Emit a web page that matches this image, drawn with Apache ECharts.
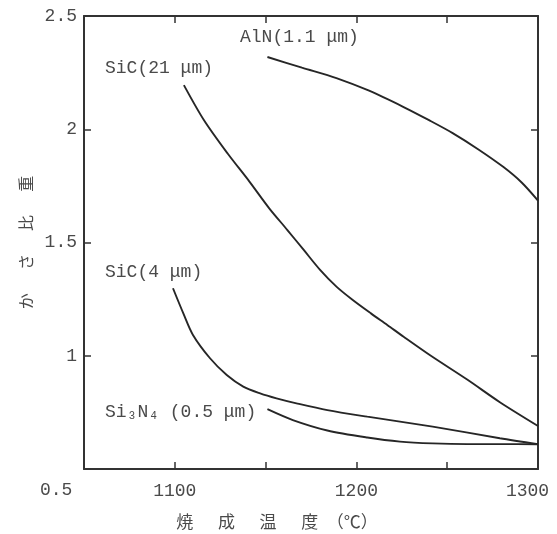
<!DOCTYPE html>
<html><head><meta charset="utf-8">
<script src="https://cdn.jsdelivr.net/npm/echarts@6/dist/echarts.min.js"></script>
<style>html,body{margin:0;padding:0;background:#fff}#c{width:557px;height:534px}</style>
</head><body><div id="c"></div>
<script>
const xTicks = [1050, 1100, 1150, 1200, 1250, 1300];
const xLabels = ['', '1100', '', '1200', '', '1300'];
const yLabels = ['', '1', '1.5', '2', '2.5'];
const seriesNames = ['AlN(1.1 μm)', 'SiC(21 μm)', 'SiC(4 μm)', 'Si₃N₄ (0.5 μm)'];
const alnX = [1151, 1170, 1189, 1207, 1226, 1240, 1253, 1267, 1281, 1291, 1300];
const alnY = [2.319, 2.272, 2.226, 2.17, 2.098, 2.04, 1.983, 1.912, 1.833, 1.765, 1.685];
const sic21X = [1105, 1116, 1129, 1141, 1152, 1162, 1171, 1180, 1189, 1198, 1208, 1217, 1226, 1241, 1261, 1279, 1300];
const sic21Y = [2.195, 2.041, 1.894, 1.77, 1.651, 1.555, 1.467, 1.379, 1.305, 1.246, 1.187, 1.136, 1.084, 1.0, 0.895, 0.795, 0.69];
const sic4X = [1099, 1104.7, 1110, 1119.4, 1128.6, 1137.7, 1147, 1156, 1167, 1184, 1206, 1242, 1279, 1300];
const sic4Y = [1.298, 1.187, 1.092, 0.989, 0.915, 0.864, 0.834, 0.812, 0.79, 0.76, 0.731, 0.687, 0.636, 0.61];
const si3n4X = [1151, 1165, 1184, 1206, 1224, 1242, 1261, 1279, 1300];
const si3n4Y = [0.764, 0.716, 0.67, 0.639, 0.621, 0.613, 0.61, 0.61, 0.609];
const xName = '焼　  成　  温　  度　（℃）';
const yName = 'か　  さ　  比　  重';
const lowLabel = '0.5';

const zip = (xs, ys) => xs.map((x, i) => [x, ys[i]]);
const lineStyle = {color: '#262626', width: 1.9};
const mk = (name, xs, ys) => ({name, type: 'line', data: zip(xs, ys), smooth: 0.3, showSymbol: false, lineStyle, silent: true});
const txtColor = '#4a4a4a';
const mono = '"Liberation Mono", "DejaVu Sans Mono", monospace';
const chart = echarts.init(document.getElementById('c'), null, {renderer: 'canvas'});
const axisLine = {show: true, lineStyle: {color: '#333', width: 2}};
const tick = {inside: true, length: 7, lineStyle: {color: '#333', width: 1.5}};
chart.setOption({
  animation: false,
  backgroundColor: '#fff',
  grid: {left: 84, right: 19, top: 16, bottom: 65, outerBoundsMode: 'none', containLabel: false},
  xAxis: [{
    type: 'value', min: 1050, max: 1300, interval: 50,
    axisLine, axisTick: tick, splitLine: {show: false},
    axisLabel: {margin: 13, color: txtColor, fontSize: 18, fontFamily: mono,
      formatter: v => {
        const i = xTicks.indexOf(v);
        const s = xLabels[i] || '';
        return i === xTicks.length - 1 ? '{last|' + s + '}' : s;
      },
      rich: {last: {padding: [0, 21, 0, 0], color: txtColor, fontSize: 18, fontFamily: mono}}},
    name: xName, nameLocation: 'middle', nameGap: 44,
    nameTextStyle: {color: txtColor, fontSize: 17, fontFamily: '"Noto Sans CJK JP"', padding: [0, 68, 0, 0]}
  }, {
    type: 'value', min: 1050, max: 1300, interval: 50, position: 'top',
    axisLine, axisTick: tick, axisLabel: {show: false}, splitLine: {show: false}
  }],
  yAxis: [{
    type: 'value', min: 0.5, max: 2.5, interval: 0.5,
    axisLine, axisTick: tick, splitLine: {show: false},
    axisLabel: {margin: 7, color: txtColor, fontSize: 18, fontFamily: mono,
      formatter: v => yLabels[Math.round((v - 0.5) / 0.5)] || ''},
    name: yName, nameLocation: 'middle', nameRotate: 90, nameGap: 50,
    nameTextStyle: {color: txtColor, fontSize: 16, fontFamily: '"Noto Sans CJK JP"'}
  }, {
    type: 'value', min: 0.5, max: 2.5, interval: 0.5, position: 'right',
    axisLine, axisTick: tick, axisLabel: {show: false}, splitLine: {show: false}
  }],
  series: [
    mk(seriesNames[0], alnX, alnY),
    mk(seriesNames[1], sic21X, sic21Y),
    mk(seriesNames[2], sic4X, sic4Y),
    mk(seriesNames[3], si3n4X, si3n4Y)
  ],
  graphic: [
    {type: 'text', x: 240, y: 37, style: {text: seriesNames[0], fill: txtColor, font: '18px ' + mono, verticalAlign: 'middle'}},
    {type: 'text', x: 105, y: 68, style: {text: seriesNames[1], fill: txtColor, font: '18px ' + mono, verticalAlign: 'middle'}},
    {type: 'text', x: 105, y: 272, style: {text: seriesNames[2], fill: txtColor, font: '18px ' + mono, verticalAlign: 'middle'}},
    {type: 'text', x: 105, y: 412, style: {text: seriesNames[3], fill: txtColor, font: '18px ' + mono, verticalAlign: 'middle'}},
    {type: 'text', x: 40, y: 490, style: {text: lowLabel, fill: txtColor, font: '18px ' + mono, verticalAlign: 'middle'}}
  ]
});
</script></body></html>
